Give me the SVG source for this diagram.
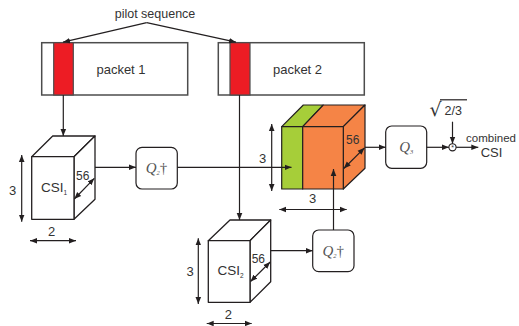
<svg xmlns="http://www.w3.org/2000/svg" width="519" height="326" viewBox="0 0 519 326">
  <defs>
    <marker id="ah" viewBox="0 0 10 10" refX="10" refY="5" markerWidth="7" markerHeight="7" orient="auto-start-reverse" markerUnits="userSpaceOnUse">
      <path d="M0,1 L10,5 L0,9 Z" fill="#231f20"/>
    </marker>
    <style>
      .ln { stroke: #231f20; stroke-width: 1.2; fill: none; }
      .arr { stroke: #231f20; stroke-width: 1.2; fill: none; marker-end: url(#ah); }
      .dbl { stroke: #231f20; stroke-width: 1.2; fill: none; marker-start: url(#ah); marker-end: url(#ah); }
      .box { fill: #ffffff; stroke: #231f20; stroke-width: 1.2; }
      .pkt { fill: #ffffff; stroke: #4d4d4d; stroke-width: 1.5; }
      .red { fill: #ed1c24; stroke: #4d4d4d; stroke-width: 1.2; }
      .face { fill: #ffffff; stroke: #231f20; stroke-width: 1.3; stroke-linejoin: round; }
      .grn { fill: #a6ce39; stroke: #231f20; stroke-width: 1.2; stroke-linejoin: round; }
      .org { fill: #f58446; stroke: #231f20; stroke-width: 1.2; stroke-linejoin: round; }
      .t { font-family: "Liberation Sans", Arial, sans-serif; fill: #333333; }
      .q { font-family: "Liberation Serif", "Times New Roman", serif; font-style: italic; fill: #555555; }
    </style>
  </defs>

  <!-- pilot sequence label -->
  <g id="pilot">
    <text class="t" x="155" y="18" font-size="12.5" text-anchor="middle">pilot sequence</text>
  </g>

  <!-- packets -->
  <g id="packet1">
    <rect class="pkt" x="41.7" y="42.7" width="146" height="52.3"/>
    <rect class="red" x="53.7" y="42.7" width="19.6" height="52.3"/>
    <text class="t" x="121" y="73.5" font-size="13" text-anchor="middle">packet 1</text>
  </g>
  <g id="packet2">
    <rect class="pkt" x="218.3" y="42.7" width="146" height="52.3"/>
    <rect class="red" x="230" y="42.7" width="20" height="52.3"/>
    <text class="t" x="297.5" y="73.5" font-size="13" text-anchor="middle">packet 2</text>
  </g>

  <!-- CSI 1 cube -->
  <g id="csi1">
    <path class="face" d="M31.7,156.7 L52.7,136 L95,136 L74,156.7 Z"/>
    <path class="face" d="M74,156.7 L95,136 L95,199.3 L74,219.3 Z"/>
    <rect class="face" x="31.7" y="156.7" width="42.3" height="62.6"/>
    <text class="t" x="41" y="192" font-size="13.5">CSI<tspan font-size="6.5" dy="3">1</tspan></text>
    <text class="t" x="76" y="180" font-size="12">56</text>
    <line class="dbl" x1="94.3" y1="178.3" x2="74.3" y2="199"/>
    <text class="t" x="12.7" y="195" font-size="13" text-anchor="middle">3</text>
    <line class="dbl" x1="21.7" y1="155" x2="21.7" y2="221.7"/>
    <text class="t" x="51.7" y="236" font-size="13" text-anchor="middle">2</text>
    <line class="dbl" x1="30" y1="240.7" x2="76" y2="240.7"/>
  </g>

  <!-- Q2 dagger for CSI 1 -->
  <g id="q2a">
    <rect class="box" x="136" y="147.3" width="41.3" height="41.7" rx="6"/>
    <text class="q" x="156.5" y="173" font-size="15" text-anchor="middle">Q<tspan font-size="6.5" dy="2">2</tspan><tspan dy="-2" font-style="normal">†</tspan></text>
  </g>

  <!-- combined cube -->
  <g id="combined-cube">
    <path class="grn" d="M281.7,126.7 L303.3,105 L323.3,105 L302.7,126.7 Z"/>
    <path class="org" d="M302.7,126.7 L323.3,105 L365,105 L343.3,126.7 Z"/>
    <path class="org" d="M343.3,126.7 L365,105 L365,168.3 L343.3,189 Z"/>
    <rect class="grn" x="281.7" y="126.7" width="21" height="62.3"/>
    <rect class="org" x="302.7" y="126.7" width="40.6" height="62.3"/>
    <text class="t" x="346" y="144.3" font-size="12">56</text>
    <line class="dbl" x1="364.5" y1="147.8" x2="343.8" y2="168.5"/>
    <text class="t" x="262.7" y="163" font-size="13" text-anchor="middle">3</text>
    <line class="dbl" x1="271.7" y1="124" x2="271.7" y2="191"/>
    <text class="t" x="312.7" y="203" font-size="13" text-anchor="middle">3</text>
    <line class="dbl" x1="279.3" y1="209.5" x2="346.7" y2="209.5"/>
  </g>

  <!-- CSI 2 cube -->
  <g id="csi2">
    <path class="face" d="M208.3,240.7 L230,220 L270.7,220 L250,240.7 Z"/>
    <path class="face" d="M250,240.7 L270.7,220 L270.7,281.7 L250,302.3 Z"/>
    <rect class="face" x="208.3" y="240.7" width="41.7" height="61.6"/>
    <text class="t" x="217.5" y="274.5" font-size="13.5">CSI<tspan font-size="6.5" dy="3">2</tspan></text>
    <text class="t" x="251.7" y="262.7" font-size="12">56</text>
    <line class="dbl" x1="270.2" y1="262" x2="250.5" y2="281.5"/>
    <text class="t" x="190" y="276" font-size="13" text-anchor="middle">3</text>
    <line class="dbl" x1="198.3" y1="238.3" x2="198.3" y2="304"/>
    <text class="t" x="228.3" y="319" font-size="13" text-anchor="middle">2</text>
    <line class="dbl" x1="206.7" y1="323.5" x2="251.7" y2="323.5"/>
  </g>

  <!-- Q2 dagger for CSI 2 -->
  <g id="q2b">
    <rect class="box" x="312.7" y="230" width="41.3" height="41.7" rx="6"/>
    <text class="q" x="333.2" y="256" font-size="15" text-anchor="middle">Q<tspan font-size="6.5" dy="2">2</tspan><tspan dy="-2" font-style="normal">†</tspan></text>
  </g>

  <!-- Q3 -->
  <g id="q3">
    <rect class="box" x="385.7" y="126" width="41" height="42.3" rx="6"/>
    <text class="q" x="406.2" y="152" font-size="15" text-anchor="middle">Q<tspan font-size="6.5" dy="2">3</tspan></text>
  </g>

  <!-- scaling factor sqrt(2/3) -->
  <g id="scale">
    <text x="429.5" y="116" font-family="'DejaVu Sans', sans-serif" font-size="19" fill="#333333">√</text>
    <text class="t" x="444.5" y="115" font-size="12.5">2/3</text>
    <line class="ln" x1="440" y1="99.8" x2="467" y2="99.8" stroke-width="1"/>
  </g>
  <g id="multiply">
    <circle cx="452.5" cy="147.3" r="3.6" fill="#ffffff" stroke="#231f20" stroke-width="1.1"/>
    <text class="t" x="452.5" y="150.3" font-size="7" text-anchor="middle">*</text>
  </g>
  <g id="output">
    <text class="t" x="491" y="141.7" font-size="11.5" text-anchor="middle">combined</text>
    <text class="t" x="491.5" y="157" font-size="13" text-anchor="middle">CSI</text>
  </g>

  <!-- connectors -->
  <g id="connectors">
    <line class="arr" x1="146.7" y1="22.7" x2="63" y2="42.2"/>
    <line class="arr" x1="146.7" y1="22.7" x2="236" y2="42.2"/>
    <line class="arr" x1="63.3" y1="95" x2="63.3" y2="136"/>
    <line class="arr" x1="239.5" y1="95" x2="239.5" y2="220"/>
    <line class="arr" x1="95" y1="167.3" x2="136" y2="167.3"/>
    <line class="arr" x1="177.3" y1="167.3" x2="291.5" y2="167.3"/>
    <line class="arr" x1="270.7" y1="250.7" x2="312.7" y2="250.7"/>
    <line class="arr" x1="333.5" y1="230" x2="333.5" y2="169"/>
    <line class="arr" x1="365" y1="147.3" x2="385.7" y2="147.3"/>
    <line class="arr" x1="426.7" y1="147.3" x2="448.9" y2="147.3"/>
    <line class="arr" x1="452.5" y1="121.7" x2="452.5" y2="143.7"/>
    <line class="arr" x1="456.1" y1="147.3" x2="478.3" y2="147.3"/>
  </g>
</svg>
